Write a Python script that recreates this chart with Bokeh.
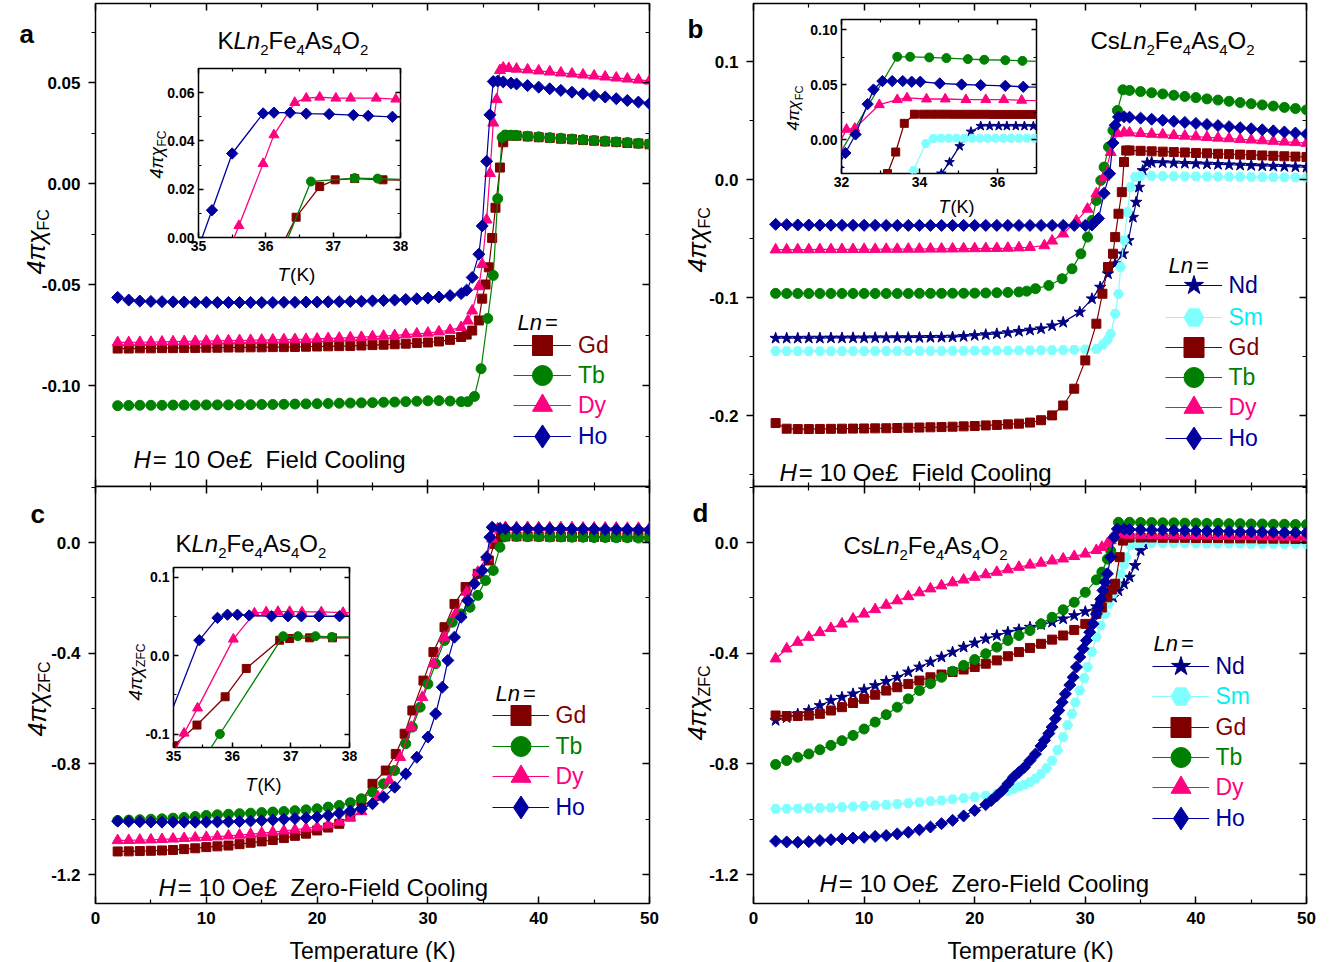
import math
from bokeh.plotting import figure
from bokeh.models import (Range1d, LinearAxis, FixedTicker, PrintfTickFormatter,
                          Label, Legend, LegendItem, GridBox)
from bokeh.core.properties import value
from bokeh.embed import file_html
from bokeh.resources import INLINE

# ---------------------------------------------------------------- data
# Panel a : K Ln2Fe4As4O2, field cooling
a_Gd_T = [2,3,4,5,6,7,8,9,10,11,12,13,14,15,16,17,18,19,20,21,22,23,24,25,26,27,28,29,30,31,32,33,
          33.5,34.0,34.6,34.9,35.2,35.5,35.8,36.1,36.5,36.8,37.1,37.6,
          38,39,40,41,42,43,44,45,46,47,48,49,50]
a_Gd_v = [-0.0817,-0.0817,-0.0816,-0.0816,-0.0815,-0.0815,-0.0814,-0.0814,-0.0813,-0.0813,-0.0812,-0.0812,
          -0.0811,-0.0811,-0.0810,-0.0810,-0.0809,-0.0808,-0.0807,-0.0806,-0.0805,-0.0804,-0.0802,-0.0800,
          -0.0798,-0.0796,-0.0793,-0.0790,-0.0787,-0.0782,-0.0774,-0.0760,
          -0.0748,-0.0728,-0.0678,-0.0570,-0.0500,-0.0415,-0.0270,-0.0120,0.0079,0.0204,0.0238,0.0238,
          0.0237,0.0233,0.0229,0.0226,0.0222,0.0219,0.0215,0.0212,0.0208,0.0205,0.0201,0.0198,0.0194]
a_Tb_T = [2,3,4,5,6,7,8,9,10,11,12,13,14,15,16,17,18,19,20,21,22,23,24,25,26,27,28,29,30,31,32,33,
          33.6,34.2,34.8,35.4,35.9,36.3,36.7,37.0,37.5,
          38,39,40,41,42,43,44,45,46,47,48,49,50]
a_Tb_v = [-0.1100,-0.1099,-0.1098,-0.1098,-0.1098,-0.1097,-0.1097,-0.1097,-0.1096,-0.1096,-0.1096,-0.1095,
          -0.1095,-0.1094,-0.1094,-0.1093,-0.1092,-0.1091,-0.1090,-0.1089,-0.1088,-0.1087,-0.1086,-0.1085,
          -0.1083,-0.1082,-0.1080,-0.1078,-0.1076,-0.1075,-0.1077,-0.1080,
          -0.1080,-0.1054,-0.0917,-0.0668,-0.0455,-0.0075,0.0228,0.0240,0.0239,
          0.0238,0.0234,0.0231,0.0227,0.0224,0.0220,0.0217,0.0213,0.0210,0.0206,0.0203,0.0199,0.0196]
a_Dy_T = [2,3,4,5,6,7,8,9,10,11,12,13,14,15,16,17,18,19,20,21,22,23,24,25,26,27,28,29,30,31,32,33,
          33.6,34.0,34.6,34.9,35.3,35.6,35.9,36.2,36.5,36.8,37.3,
          38,39,40,41,42,43,44,45,46,47,48,49,50]
a_Dy_v = [-0.0787,-0.0787,-0.0786,-0.0785,-0.0784,-0.0783,-0.0782,-0.0781,-0.0780,-0.0779,-0.0778,-0.0777,
          -0.0776,-0.0775,-0.0774,-0.0773,-0.0772,-0.0771,-0.0769,-0.0767,-0.0765,-0.0763,-0.0761,-0.0758,
          -0.0755,-0.0752,-0.0748,-0.0744,-0.0740,-0.0734,-0.0726,-0.0712,
          -0.0680,-0.0630,-0.0510,-0.0400,-0.0180,0.0050,0.0300,0.0416,0.0560,0.0572,0.0570,
          0.0567,0.0563,0.0558,0.0553,0.0548,0.0543,0.0538,0.0533,0.0528,0.0523,0.0518,0.0513,0.0508]
a_Ho_T = [2,3,4,5,6,7,8,9,10,11,12,13,14,15,16,17,18,19,20,21,22,23,24,25,26,27,28,29,30,31,32,33,
          33.5,34.0,34.6,34.9,35.3,35.6,35.9,36.3,36.8,37.5,
          38,39,40,41,42,43,44,45,46,47,48,49,50]
a_Ho_v = [-0.0564,-0.0577,-0.0582,-0.0584,-0.0585,-0.0586,-0.0587,-0.0588,-0.0588,-0.0589,-0.0589,-0.0589,
          -0.0589,-0.0589,-0.0589,-0.0588,-0.0588,-0.0587,-0.0587,-0.0586,-0.0585,-0.0584,-0.0583,-0.0581,
          -0.0579,-0.0577,-0.0574,-0.0571,-0.0567,-0.0562,-0.0555,-0.0545,
          -0.0528,-0.0465,-0.0350,-0.0210,0.0110,0.0340,0.0505,0.0507,0.0503,0.0497,
          0.0493,0.0485,0.0477,0.0469,0.0461,0.0452,0.0444,0.0436,0.0428,0.0420,0.0411,0.0403,0.0395]

# Panel b : Cs Ln2Fe4As4O2, field cooling
b_Nd_T = [2,3,4,5,6,7,8,9,10,11,12,13,14,15,16,17,18,19,20,21,22,23,24,25,26,27,28,
          29.5,30.6,31.35,32.05,32.7,33.4,33.9,34.3,34.6,34.85,35.2,35.6,
          36,37,38,39,40,41,42,43,44,45,46,47,48,49,50]
b_Nd_v = [-0.1345,-0.1345,-0.1345,-0.1344,-0.1344,-0.1343,-0.1343,-0.1342,-0.1342,-0.1341,-0.1341,-0.1340,
          -0.1340,-0.1339,-0.1338,-0.1337,
          -0.1335,-0.1330,-0.1322,-0.1315,-0.1308,-0.1298,-0.1287,-0.1276,-0.1265,-0.1240,-0.1210,
          -0.1124,-0.1011,-0.0912,-0.0799,-0.0714,-0.0630,-0.0517,-0.0320,-0.0192,-0.0065,0.0076,0.0140,
          0.0145,0.0143,0.0140,0.0137,0.0134,0.0131,0.0128,0.0125,0.0122,0.0119,0.0116,0.0113,0.0110,0.0107,0.0104]
b_Sm_T = [2,3,4,5,6,7,8,9,10,11,12,13,14,15,16,17,18,19,20,21,22,23,24,25,26,27,28,29,30,31,
          31.6,32.0,32.3,32.7,33.0,33.2,33.5,33.8,34.1,34.5,
          35,36,37,38,39,40,41,42,43,44,45,46,47,48,49,50]
b_Sm_v = [-0.1454,-0.1455,-0.1455,-0.1455,-0.1455,-0.1455,-0.1455,-0.1455,-0.1455,-0.1454,-0.1454,-0.1454,
          -0.1454,-0.1453,-0.1453,-0.1453,-0.1452,-0.1452,-0.1451,-0.1451,-0.1450,-0.1450,-0.1449,-0.1448,
          -0.1447,-0.1446,-0.1445,-0.1443,-0.1440,-0.1436,
          -0.1400,-0.1360,-0.1307,-0.1138,-0.0969,-0.0742,-0.0516,-0.0276,-0.0064,0.0021,
          0.0030,0.0030,0.0029,0.0028,0.0027,0.0026,0.0025,0.0024,0.0023,0.0022,0.0021,0.0020,0.0019,0.0018,0.0017,0.0016]
b_Gd_T = [2,3,4,5,6,7,8,9,10,11,12,13,14,15,16,17,18,19,20,21,22,23,24,25,26,27,28,29,30,
          31,31.55,32.05,32.5,32.7,33.0,33.3,33.5,33.7,
          34,35,36,37,38,39,40,41,42,43,44,45,46,47,48,49,50]
b_Gd_v = [-0.2064,-0.2112,-0.2115,-0.2115,-0.2114,-0.2113,-0.2112,-0.2111,-0.2110,-0.2109,-0.2108,-0.2106,
          -0.2104,-0.2102,-0.2100,-0.2098,-0.2095,-0.2092,-0.2089,-0.2084,-0.2080,-0.2075,-0.2069,-0.2060,
          -0.2040,-0.1999,-0.1915,-0.1773,-0.1533,
          -0.1222,-0.0968,-0.0742,-0.0629,-0.0488,-0.0290,-0.0107,0.0148,0.0246,
          0.0246,0.0243,0.0239,0.0236,0.0232,0.0229,0.0225,0.0222,0.0218,0.0215,0.0211,0.0208,0.0204,0.0201,
          0.0197,0.0194,0.0190]
b_Tb_T = [2,3,4,5,6,7,8,9,10,11,12,13,14,15,16,17,18,19,20,21,22,23,24,
          24.7,25.5,26.7,27.9,28.8,29.6,30.2,30.6,31.0,31.4,31.7,32.1,32.5,32.9,33.4,
          34,35,36,37,38,39,40,41,42,43,44,45,46,47,48,49,50]
b_Tb_v = [-0.0965,-0.0966,-0.0966,-0.0966,-0.0966,-0.0966,-0.0966,-0.0966,-0.0966,-0.0966,-0.0966,-0.0966,
          -0.0966,-0.0965,-0.0965,-0.0965,-0.0964,-0.0964,-0.0963,-0.0962,-0.0960,-0.0957,-0.0953,
          -0.0946,-0.0925,-0.0898,-0.0841,-0.0757,-0.0630,-0.0488,-0.0347,-0.0178,-0.0008,0.0105,0.0275,
          0.0416,0.0585,0.0760,
          0.0755,0.0745,0.0735,0.0725,0.0714,0.0704,0.0694,0.0683,0.0673,0.0663,0.0652,0.0642,0.0632,0.0622,
          0.0611,0.0601,0.0590]
b_Dy_T = [2,3,4,5,6,7,8,9,10,11,12,13,14,15,16,17,18,19,20,21,22,23,24,25,
          26.3,27.0,28.0,29.2,30.2,31.0,31.7,32.3,32.9,33.5,
          34,35,36,37,38,39,40,41,42,43,44,45,46,47,48,49,50]
b_Dy_v = [-0.0595,-0.0595,-0.0594,-0.0594,-0.0593,-0.0593,-0.0592,-0.0592,-0.0591,-0.0591,-0.0590,-0.0590,
          -0.0589,-0.0589,-0.0588,-0.0588,-0.0587,-0.0586,-0.0585,-0.0584,-0.0583,-0.0581,-0.0578,-0.0574,
          -0.0560,-0.0520,-0.0460,-0.0350,-0.0250,-0.0120,0.0020,0.0230,0.0390,0.0398,
          0.0396,0.0391,0.0385,0.0380,0.0374,0.0369,0.0363,0.0358,0.0352,0.0347,0.0341,0.0336,0.0330,0.0325,
          0.0319,0.0314,0.0308]
b_Ho_T = [2,3,4,5,6,7,8,9,10,11,12,13,14,15,16,17,18,19,20,21,22,23,24,25,26,27,28,29,30,
          30.6,31.2,31.7,32.2,32.5,32.7,33.0,33.5,
          34,35,36,37,38,39,40,41,42,43,44,45,46,47,48,49,50]
b_Ho_v = [-0.0380,-0.0383,-0.0385,-0.0386,-0.0387,-0.0387,-0.0388,-0.0388,-0.0388,-0.0388,-0.0389,-0.0389,
          -0.0389,-0.0389,-0.0389,-0.0389,-0.0389,-0.0389,-0.0389,-0.0389,-0.0389,-0.0389,-0.0389,-0.0389,
          -0.0389,-0.0389,-0.0389,-0.0389,-0.0389,
          -0.0385,-0.0330,-0.0117,0.0050,0.0310,0.0460,0.0530,0.0532,
          0.0528,0.0520,0.0511,0.0502,0.0493,0.0484,0.0475,0.0466,0.0457,0.0448,0.0439,0.0430,0.0421,0.0412,
          0.0403,0.0394,0.0385]

# Panel c : K Ln2Fe4As4O2, zero-field cooling
c_Gd_T = [2,3,4,5,6,7,8,9,10,11,12,13,14,15,16,17,18,19,20,21,22,23,24,
          25.0,26.2,27.1,27.9,28.6,29.6,30.5,31.5,32.4,33.4,34.5,35.5,36.0,36.6,
          37,38,39,40,41,42,43,44,45,46,47,48,49,50]
c_Gd_v = [-1.1164,-1.1160,-1.1150,-1.1140,-1.1128,-1.1110,-1.1080,-1.1050,-1.1007,-1.0980,-1.0950,-1.0900,
          -1.0850,-1.0800,-1.0750,-1.0680,-1.0600,-1.0520,-1.0405,-1.0300,-1.0164,-0.9900,-0.9350,
          -0.872,-0.824,-0.764,-0.691,-0.607,-0.499,-0.396,-0.306,-0.222,-0.161,-0.113,-0.065,-0.005,0.019,
          0.022,0.022,0.022,0.022,0.021,0.021,0.021,0.021,0.020,0.020,0.020,0.020,0.020,0.020]
c_Tb_T = [2,3,4,5,6,7,8,9,10,11,12,13,14,15,16,17,18,19,20,21,22,23,24,
          25,26,27,28,28.6,29.3,30,30.7,31.5,32.2,33,33.8,34.5,35.2,35.9,36.5,37,
          38,39,40,41,42,43,44,45,46,47,48,49,50]
c_Tb_v = [-1.0044,-1.0030,-1.0015,-1.0000,-0.9985,-0.9960,-0.9935,-0.9900,-0.9863,-0.9840,-0.9820,-0.9800,
          -0.9780,-0.9760,-0.9740,-0.9720,-0.9690,-0.9660,-0.9622,-0.9560,-0.9500,-0.9400,-0.9260,
          -0.902,-0.872,-0.824,-0.727,-0.667,-0.595,-0.511,-0.438,-0.354,-0.288,-0.258,-0.234,-0.191,-0.137,
          -0.101,-0.017,0.022,
          0.022,0.021,0.021,0.020,0.020,0.019,0.019,0.018,0.018,0.017,0.017,0.016,0.016]
c_Dy_T = [2,3,4,5,6,7,8,9,10,11,12,13,14,15,16,17,18,19,20,21,22,23,24,
          25.5,26.5,27.5,28.5,29.5,30.5,31.5,32.5,33.5,34.5,35.3,35.8,36.3,
          37,38,39,40,41,42,43,44,45,46,47,48,49,50]
c_Dy_v = [-1.0766,-1.0760,-1.0750,-1.0740,-1.0725,-1.0710,-1.0690,-1.0670,-1.0650,-1.0630,-1.0600,-1.0570,
          -1.0540,-1.0500,-1.0465,-1.0420,-1.0380,-1.0330,-1.0280,-1.0200,-1.0100,-0.9950,-0.9720,
          -0.920,-0.860,-0.776,-0.667,-0.559,-0.438,-0.342,-0.258,-0.179,-0.107,-0.053,0.013,0.050,
          0.055,0.055,0.055,0.054,0.054,0.054,0.054,0.053,0.053,0.053,0.053,0.052,0.052,0.052]
c_Ho_T = [2,3,4,5,6,7,8,9,10,11,12,13,14,15,16,17,18,19,20,21,22,23,24,
          25,26,27,28,29,30,30.7,31.3,31.8,32.4,33.0,33.6,34.2,34.9,35.3,35.6,35.8,36.5,
          37,38,39,40,41,42,43,44,45,46,47,48,49,50]
c_Ho_v = [-1.0068,-1.0080,-1.0090,-1.0100,-1.0104,-1.0104,-1.0104,-1.0104,-1.0100,-1.0095,-1.0090,-1.0080,
          -1.0065,-1.0044,-1.0025,-1.0000,-0.9975,-0.9950,-0.9920,-0.9860,-0.9780,-0.9700,-0.9620,
          -0.944,-0.920,-0.884,-0.836,-0.776,-0.703,-0.619,-0.523,-0.426,-0.342,-0.270,-0.210,-0.149,-0.101,
          -0.053,0.019,0.055,0.051,
          0.050,0.050,0.050,0.049,0.049,0.049,0.048,0.048,0.048,0.047,0.047,0.047,0.046,0.046]

# Panel d : Cs Ln2Fe4As4O2, zero-field cooling
d_Nd_T = [2,3,4,5,6,7,8,9,10,11,12,13,14,15,16,17,18,19,20,21,22,23,24,25,26,27,28,29,30,31,32,
          32.5,33,33.5,34,34.5,35,35.3,35.6,
          36,37,38,39,40,41,42,43,44,45,46,47,48,49,50]
d_Nd_v = [-0.643,-0.633,-0.620,-0.607,-0.589,-0.571,-0.559,-0.547,-0.532,-0.517,-0.502,-0.487,-0.468,-0.450,
          -0.432,-0.414,-0.396,-0.378,-0.363,-0.348,-0.336,-0.324,-0.315,-0.306,-0.297,-0.288,-0.276,-0.264,
          -0.250,-0.232,-0.210,
          -0.198,-0.175,-0.150,-0.125,-0.083,-0.029,-0.005,0.008,
          0.012,0.012,0.012,0.012,0.011,0.011,0.011,0.011,0.011,0.010,0.010,0.010,0.010,0.010,0.010]
d_Sm_T = [2,3,4,5,6,7,8,9,10,11,12,13,14,15,16,17,18,19,20,21,22,
          23,23.5,24,24.5,25,25.5,26,26.5,27,27.5,28,28.4,28.8,29.1,29.5,29.9,30.2,30.6,31,31.4,31.8,32.1,
          32.5,32.8,33.2,33.5,33.7,34.1,34.5,
          35,36,37,38,39,40,41,42,43,44,45,46,47,48,49,50]
d_Sm_v = [-0.962,-0.962,-0.961,-0.960,-0.959,-0.958,-0.956,-0.954,-0.952,-0.950,-0.948,-0.945,-0.942,-0.939,
          -0.935,-0.932,-0.928,-0.924,-0.920,-0.915,-0.908,
          -0.898,-0.890,-0.882,-0.875,-0.866,-0.853,-0.836,-0.815,-0.788,-0.750,-0.703,-0.660,-0.619,-0.578,
          -0.535,-0.490,-0.450,-0.395,-0.342,-0.300,-0.258,-0.222,-0.185,-0.150,-0.113,-0.080,-0.053,-0.011,
          -0.003,
          -0.002,-0.002,-0.003,-0.003,-0.003,-0.003,-0.004,-0.004,-0.004,-0.004,-0.005,-0.005,-0.005,-0.005,
          -0.005,-0.006]
d_Gd_T = [2,3,4,5,6,7,8,9,10,11,12,13,14,15,16,17,18,19,20,21,22,23,24,25,26,27,28,29,30,31,
          31.5,32,32.4,32.7,33.1,33.4,33.8,
          34,35,36,37,38,39,40,41,42,43,44,45,46,47,48,49,50]
d_Gd_v = [-0.625,-0.627,-0.627,-0.625,-0.619,-0.607,-0.595,-0.580,-0.565,-0.550,-0.535,-0.523,-0.511,-0.499,
          -0.487,-0.477,-0.468,-0.459,-0.450,-0.438,-0.426,-0.411,-0.396,-0.381,-0.366,-0.351,-0.336,-0.316,
          -0.294,-0.258,
          -0.235,-0.198,-0.170,-0.149,-0.053,0.007,0.018,
          0.018,0.018,0.018,0.017,0.017,0.017,0.016,0.016,0.016,0.015,0.015,0.015,0.014,0.014,0.014,0.013,0.013]
d_Tb_T = [2,3,4,5,6,7,8,9,10,11,12,13,14,15,16,17,18,19,20,21,22,23,24,25,26,27,28,29,30,31,
          31.5,32,32.3,32.6,33,
          34,35,36,37,38,39,40,41,42,43,44,45,46,47,48,49,50]
d_Tb_v = [-0.802,-0.788,-0.776,-0.764,-0.749,-0.733,-0.716,-0.697,-0.674,-0.649,-0.622,-0.595,-0.565,-0.535,
          -0.510,-0.487,-0.465,-0.444,-0.423,-0.402,-0.378,-0.354,-0.336,-0.318,-0.294,-0.270,-0.243,-0.216,
          -0.180,-0.135,
          -0.107,-0.060,-0.030,0.019,0.073,
          0.073,0.072,0.072,0.071,0.071,0.070,0.070,0.069,0.069,0.068,0.068,0.067,0.067,0.066,0.066,0.065,0.065]
d_Dy_T = [2,3,4,5,6,7,8,9,10,11,12,13,14,15,16,17,18,19,20,21,22,23,24,25,26,27,28,29,30,31,
          31.5,32,32.3,32.7,33.2,
          34,35,36,37,38,39,40,41,42,43,44,45,46,47,48,49,50]
d_Dy_v = [-0.420,-0.384,-0.360,-0.342,-0.325,-0.310,-0.294,-0.276,-0.258,-0.242,-0.226,-0.210,-0.195,-0.181,
          -0.167,-0.156,-0.145,-0.135,-0.125,-0.116,-0.107,-0.098,-0.089,-0.081,-0.074,-0.066,-0.059,-0.050,
          -0.041,-0.028,
          -0.017,-0.004,0.007,0.031,0.028,
          0.027,0.027,0.026,0.026,0.025,0.025,0.024,0.024,0.023,0.023,0.022,0.022,0.021,0.021,0.020,0.020,0.020]
d_Ho_T = [2,3,4,5,6,7,8,9,10,11,12,13,14,15,16,17,18,19,20,
          21,21.5,22,22.5,23,23.5,24,24.5,25,25.5,26,26.3,26.7,27,27.3,27.6,27.9,28.2,28.6,28.9,29.2,29.5,
          29.8,30.1,30.4,30.7,31.0,31.2,31.4,31.6,31.8,32.0,32.3,32.6,32.9,33.5,
          34,35,36,37,38,39,40,41,42,43,44,45,46,47,48,49,50]
d_Ho_v = [-1.079,-1.082,-1.083,-1.081,-1.077,-1.074,-1.071,-1.068,-1.065,-1.062,-1.059,-1.053,-1.047,-1.038,
          -1.028,-1.016,-1.004,-0.988,-0.968,
          -0.947,-0.932,-0.915,-0.896,-0.872,-0.848,-0.830,-0.812,-0.788,-0.764,-0.735,-0.715,-0.690,-0.667,
          -0.637,-0.607,-0.577,-0.547,-0.515,-0.487,-0.450,-0.414,-0.384,-0.354,-0.324,-0.294,-0.258,-0.234,
          -0.205,-0.173,-0.143,-0.113,-0.053,0.019,0.049,0.048,
          0.047,0.046,0.045,0.045,0.044,0.043,0.042,0.042,0.041,0.040,0.039,0.039,0.038,0.037,0.036,0.036,0.035]

# Inset of a
ia_Gd_T = [36.1,36.45,36.8,37.03,37.32,37.74,38.2]
ia_Gd_v = [-0.011,0.0084,0.0211,0.0239,0.0244,0.0239,0.0237]
ia_Tb_T = [36.2,36.67,37.32,37.66,38.2]
ia_Tb_v = [-0.0090,0.0232,0.0246,0.0244,0.0238]
ia_Dy_T = [35.3,35.6,35.96,36.12,36.43,36.6,36.8,37.04,37.26,37.64,37.93,38.2]
ia_Dy_v = [-0.016,0.0049,0.0306,0.0425,0.0559,0.0577,0.0581,0.0577,0.0577,0.0577,0.0573,0.0571]
ia_Ho_T = [34.9,35.2,35.5,35.96,36.12,36.36,36.6,36.94,37.3,37.52,37.88,38.2]
ia_Ho_v = [-0.012,0.0113,0.0348,0.0514,0.0517,0.0517,0.0513,0.0511,0.0507,0.0504,0.0500,0.0497]

# Inset of b
ib_Nd_T = [34.3,34.56,34.77,35.03,35.32,35.57,35.8,36.03,36.24,36.47,36.69,36.92,37.2]
ib_Nd_v = [-0.045,-0.031,-0.0206,-0.0061,0.0071,0.0123,0.0123,0.0123,0.0123,0.0123,0.0123,0.0122,0.0122]
ib_Sm_T = [33.7,33.85,34.16,34.35,34.55,34.75,34.95,35.15,35.35,35.55,35.75,35.95,36.15,36.35,36.55,36.75,36.95,37.2]
ib_Sm_v = [-0.045,-0.028,-0.0037,0.0009,0.0012,0.0012,0.0012,0.0012,0.0012,0.0012,0.0012,0.0012,0.0012,
           0.0012,0.0012,0.0012,0.0012,0.0012]
ib_Gd_T = [33.0,33.18,33.39,33.61,33.87,34.1,34.3,34.5,34.7,34.9,35.1,35.3,35.5,35.7,35.9,36.1,36.3,36.5,
           36.7,36.9,37.2]
ib_Gd_v = [-0.060,-0.031,-0.0114,0.0147,0.0230,0.0230,0.0230,0.0230,0.0230,0.0229,0.0229,0.0229,0.0229,
           0.0229,0.0228,0.0228,0.0228,0.0228,0.0228,0.0228,0.0227]
ib_Tb_T = [31.7,33.43,33.76,34.25,34.69,35.24,35.66,36.2,36.64,37.2]
ib_Tb_v = [-0.028,0.0752,0.0752,0.0746,0.0740,0.0731,0.0725,0.0721,0.0715,0.0708]
ib_Dy_T = [31.9,32.13,32.34,32.97,33.43,33.68,34.18,34.66,35.19,35.7,36.16,36.62,37.2]
ib_Dy_v = [-0.006,0.0092,0.0101,0.0316,0.0362,0.0378,0.0368,0.0368,0.0362,0.0362,0.0362,0.0356,0.0352]
ib_Ho_T = [31.9,32.1,32.36,32.67,32.82,33.05,33.3,33.57,33.8,34.02,34.52,35.08,35.57,36.2,36.66,37.2]
ib_Ho_v = [-0.025,-0.0123,0.0046,0.0322,0.0454,0.0531,0.0531,0.0531,0.0525,0.0525,0.0510,0.0500,0.0494,
           0.0488,0.0479,0.0474]

# Inset of c
ic_Gd_T = [34.9,35.0,35.4,35.88,36.24,36.81,36.98,37.32,37.71,38.2]
ic_Gd_v = [-0.122,-0.115,-0.0886,-0.0526,-0.0165,0.0195,0.0216,0.0225,0.0225,0.0223]
ic_Tb_T = [35.5,35.79,36.87,37.12,37.42,37.7,38.2]
ic_Tb_v = [-0.1335,-0.100,0.0246,0.0246,0.0246,0.0237,0.0235]
ic_Dy_T = [34.9,35.18,35.41,36.02,36.38,36.58,36.78,36.98,37.19,37.52,37.89,38.2]
ic_Dy_v = [-0.138,-0.099,-0.067,0.0208,0.054,0.0555,0.056,0.056,0.0555,0.0555,0.0547,0.0545]
ic_Ho_T = [34.9,35.44,35.75,35.92,36.09,36.29,36.67,36.95,37.18,37.48,37.83,38.2]
ic_Ho_v = [-0.084,0.0195,0.048,0.052,0.052,0.051,0.050,0.050,0.050,0.050,0.050,0.050]

# ticks
x_main_ticks = [0, 10, 20, 30, 40, 50]
x_main_minor = [5, 15, 25, 35, 45]
ya_ticks = [-0.10, -0.05, 0.0, 0.05]
ya_minor = [-0.125, -0.075, -0.025, 0.025, 0.075]
yb_ticks = [-0.2, -0.1, 0.0, 0.1]
yb_minor = [-0.25, -0.15, -0.05, 0.05]
ycd_ticks = [-1.2, -0.8, -0.4, 0.0]
ycd_minor = [-1.0, -0.6, -0.2, 0.2]
xia_ticks = [35, 36, 37, 38]
xia_minor = [35.5, 36.5, 37.5]
yia_ticks = [0.0, 0.02, 0.04, 0.06]
yia_minor = [0.01, 0.03, 0.05]
xib_ticks = [32, 34, 36]
xib_minor = [33, 35, 37]
yib_ticks = [0.0, 0.05, 0.10]
yib_minor = [-0.025, 0.025, 0.075]
yic_ticks = [-0.1, 0.0, 0.1]
yic_minor = [-0.05, 0.05]

# ---------------------------------------------------------------- styles
FONT = "Liberation Sans"
COL = {"Nd": "#000080", "Sm": "#80FFFF", "Gd": "#800000", "Tb": "#008000", "Dy": "#FF0080", "Ho": "#0000A0"}
TXT = {"Nd": "#000080", "Sm": "#00F0F0", "Gd": "#800000", "Tb": "#008000", "Dy": "#FF0080", "Ho": "#0000A0"}
MARK = {"Nd": ("star", 0.0), "Sm": ("hex", 0.0), "Gd": ("square", 0.0), "Tb": ("circle", 0.0),
        "Dy": ("triangle", 0.0), "Ho": ("square", math.pi / 4)}
MSIZE_MAIN = {"Nd": 12, "Sm": 10, "Gd": 9, "Tb": 10, "Dy": 11, "Ho": 8.5}
MSIZE_INSET = {"Nd": 10, "Sm": 9, "Gd": 8, "Tb": 9, "Dy": 10, "Ho": 8}

CW = {' ': 278, '(': 333, ')': 333, '=': 584, '.': 278, '-': 333, '£': 556,
      'A': 667, 'C': 722, 'F': 611, 'H': 722, 'K': 667, 'L': 556, 'O': 778, 'T': 611, 'Z': 611,
      'a': 556, 'c': 500, 'd': 556, 'e': 556, 'g': 556, 'i': 222, 'l': 222, 'm': 833, 'n': 556,
      'o': 556, 'p': 556, 'r': 333, 's': 500, 't': 278, 'u': 556, 'π': 600, 'χ': 560}


def tw(s, size):
    return sum(CW.get(ch, 556) for ch in s) * size / 1000.0


# frame boxes in page pixels (left, top, right, bottom) and data ranges
SPEC = {
    "a": dict(box=(95, 3, 649, 486), xr=(0, 50), yr=(-0.15, -0.15 + 483 / 2020.0)),
    "b": dict(box=(753, 3, 1306, 486), xr=(0, 50), yr=(-0.2 - 71 / 1180.0, -0.2 - 71 / 1180.0 + 483 / 1180.0)),
    "c": dict(box=(95, 486, 649, 903), xr=(0, 50), yr=(56 / 276.75 - 417 / 276.75, 56 / 276.75)),
    "d": dict(box=(753, 486, 1306, 903), xr=(0, 50), yr=(56 / 276.75 - 417 / 276.75, 56 / 276.75)),
    "ia": dict(box=(198, 68, 400, 237), xr=(35, 38), yr=(0.0, 0.07)),
    "ib": dict(box=(841, 19, 1036, 173), xr=(32, 37), yr=(-34 / 1100.0, 120 / 1100.0)),
    "ic": dict(box=(173, 567, 349, 747), xr=(35, 38), yr=(-92 / 785.0, 88 / 785.0)),
}


def make_fig(key, borders, transparent=False):
    spec = SPEC[key]
    l, t, r, b = spec["box"]
    bl, br, bt, bb = borders
    fw, fh = r - l, b - t
    p = figure(width=bl + fw + br, height=bt + fh + bb, frame_width=fw, frame_height=fh,
               x_range=Range1d(*spec["xr"]), y_range=Range1d(*spec["yr"]),
               output_backend="svg", toolbar_location=None,
               min_border_left=bl, min_border_right=br, min_border_top=bt, min_border_bottom=bb)
    p.xgrid.visible = False
    p.ygrid.visible = False
    p.outline_line_color = "black"
    p.outline_line_width = 1.5
    p.outline_line_alpha = 1.0
    p.background_fill_color = "white"
    p.border_fill_color = None if transparent else "white"
    p.add_layout(LinearAxis(), "above")
    p.add_layout(LinearAxis(), "right")
    p.align = "start"
    return p


def cfg_axis(ax, ticks, minor, tin, tout, mtin, mtout, fmt=None, lsize=17, standoff=6):
    ax.ticker = FixedTicker(ticks=ticks, minor_ticks=minor)
    ax.axis_line_color = None
    ax.major_tick_in = tin
    ax.major_tick_out = tout
    ax.minor_tick_in = mtin
    ax.minor_tick_out = mtout
    ax.major_tick_line_width = 1.5
    ax.minor_tick_line_width = 1.2
    ax.major_tick_line_color = "black"
    ax.minor_tick_line_color = "black"
    ax.axis_label = None
    if fmt:
        ax.formatter = PrintfTickFormatter(format=fmt)
        ax.major_label_text_font = FONT
        ax.major_label_text_font_style = "bold"
        ax.major_label_text_font_size = f"{lsize}px"
        ax.major_label_text_color = "black"
        ax.major_label_standoff = standoff
    else:
        # tick marks only: labels are not painted
        ax.major_label_text_color = None
        ax.major_label_text_alpha = 0.0
        ax.major_label_text_font_size = "1px"
        ax.major_label_standoff = 0


def axes(p, xt, xm, yt, ym, yfmt, xfmt=None, inset=False):
    if inset:
        M, m, ls = 5, 3, 14
        cfg_axis(p.below[0], xt, xm, M, 0, m, 0, xfmt, ls, 3)
        cfg_axis(p.left[0], yt, ym, M, 0, m, 0, yfmt, ls, 4)
    else:
        M, m, ls = 7, 4, 17
        cfg_axis(p.below[0], xt, xm, M, 0, m, 0, xfmt, ls, 8)
        cfg_axis(p.left[0], yt, ym, 0, M, 0, m, yfmt, ls, 8)
    cfg_axis(p.above[0], xt, xm, M, 0, m, 0)
    cfg_axis(p.right[0], yt, ym, M, 0, m, 0)


def series(p, name, T, v, inset=False):
    assert len(T) == len(v), (name, len(T), len(v))
    c = COL[name]
    mk, ang = MARK[name]
    size = (MSIZE_INSET if inset else MSIZE_MAIN)[name]
    r1 = p.line(T, v, line_color=c, line_width=1.3 if inset else 1.2)
    r2 = p.scatter(T, v, marker=mk, size=size, angle=ang, fill_color=c, line_color=c, line_width=1)
    if name == "Ho":
        # legend key: the legend ignores marker rotation, so use a diamond key (not drawn on the plot)
        r3 = p.scatter(T, v, marker="diamond", size=size, fill_color=c, line_color=c, line_width=1,
                       visible=False)
        return [r1, r3]
    return [r1, r2]


def legend_entry(p, key, name, rends, cx, cy, gw):
    l, t, r, b = SPEC[key]["box"]
    gh = 64 if name == "Ho" else 50
    leg = Legend(items=[LegendItem(label=value(name), renderers=rends)],
                 location=(cx - gw / 2.0 - l, b - cy - gh / 2.0),
                 glyph_width=gw, glyph_height=gh, label_standoff=7, label_height=20,
                 label_text_font=FONT, label_text_font_size="23px", label_text_color=TXT[name],
                 label_text_baseline="middle", click_policy="none",
                 padding=0, margin=0, spacing=0, border_line_color=None,
                 background_fill_alpha=0.0, inactive_fill_alpha=0.0)
    p.add_layout(leg)


# ---------------------------------------------------------------- text overlay (page pixel coordinates)
OVW, OVH = 1337, 962
ov = figure(width=OVW, height=OVH, frame_width=OVW, frame_height=OVH,
            x_range=Range1d(0, OVW), y_range=Range1d(0, OVH),
            x_axis_type=None, y_axis_type=None, output_backend="svg", toolbar_location=None,
            min_border=0, min_border_left=0, min_border_right=0, min_border_top=0, min_border_bottom=0)
ov.outline_line_color = None
ov.background_fill_color = None
ov.border_fill_color = None
ov.align = "start"


def txt(px, py, s, size, style="normal", color="black", align="left", angle=0.0):
    ov.add_layout(Label(x=px, y=OVH - py, text=s, text_font=FONT, text_font_size=f"{size}px",
                        text_font_style=style, text_color=color, text_align=align,
                        text_baseline="alphabetic", angle=angle))


def formula(px, py, parts, size=24, sub=15, drop=9):
    x = px
    for s, kind in parts:
        if kind == "s":
            txt(x, py + drop, s, sub)
            x += tw(s, sub)
        else:
            txt(x, py, s, size, "italic" if kind == "i" else "normal")
            x += tw(s, size)


def ylabel(bx, by, main, subs, size, subsize, drop):
    txt(bx, by, main, size, "italic", angle=math.pi / 2)
    txt(bx + drop, by - tw(main, size) - 1, subs, subsize, angle=math.pi / 2)


def field_text(px, py, rest):
    txt(px, py, "H", 24, "italic")
    txt(px + tw("H", 24) + 2, py, rest, 24)


def ln_head(px, py):
    txt(px, py, "Ln", 22, "italic")
    txt(px + tw("Ln", 22) + 3, py, "=", 22)


K_PARTS = [("K", "n"), ("Ln", "i"), ("2", "s"), ("Fe", "n"), ("4", "s"), ("As", "n"), ("4", "s"), ("O", "n"), ("2", "s")]
CS_PARTS = [("Cs", "n"), ("Ln", "i"), ("2", "s"), ("Fe", "n"), ("4", "s"), ("As", "n"), ("4", "s"), ("O", "n"), ("2", "s")]

# ---------------------------------------------------------------- panel a
pa = make_fig("a", (95, 16, 3, 6))
axes(pa, x_main_ticks, x_main_minor, ya_ticks, ya_minor, "%.2f")
ra = {}
for nm, T, v in [("Gd", a_Gd_T, a_Gd_v), ("Tb", a_Tb_T, a_Tb_v), ("Dy", a_Dy_T, a_Dy_v), ("Ho", a_Ho_T, a_Ho_v)]:
    ra[nm] = series(pa, nm, T, v)
for nm, cy in [("Gd", 345), ("Tb", 375), ("Dy", 405), ("Ho", 436)]:
    legend_entry(pa, "a", nm, ra[nm], 542, cy, 58)
txt(19, 33, "a", 26, "bold")
formula(217, 40, K_PARTS)
field_text(133, 459, "= 10 Oe£\u00a0 Field Cooling")
ylabel(35, 274, "4πχ", "FC", 25, 16, 8)
ln_head(517, 322)

# ---------------------------------------------------------------- panel b
pb = make_fig("b", (88, 31, 3, 6))
axes(pb, x_main_ticks, x_main_minor, yb_ticks, yb_minor, "%.1f")
rb = {}
for nm, T, v in [("Nd", b_Nd_T, b_Nd_v), ("Sm", b_Sm_T, b_Sm_v), ("Gd", b_Gd_T, b_Gd_v),
                 ("Tb", b_Tb_T, b_Tb_v), ("Dy", b_Dy_T, b_Dy_v), ("Ho", b_Ho_T, b_Ho_v)]:
    rb[nm] = series(pb, nm, T, v)
for nm, cy in [("Nd", 285), ("Sm", 317), ("Gd", 347), ("Tb", 377), ("Dy", 407), ("Ho", 438)]:
    legend_entry(pb, "b", nm, rb[nm], 1193, cy, 57)
txt(687, 28, "b", 26, "bold")
formula(1090, 40, CS_PARTS)
field_text(779, 472, "= 10 Oe£\u00a0 Field Cooling")
ylabel(696, 272, "4πχ", "FC", 25, 16, 8)
ln_head(1168, 265)

# ---------------------------------------------------------------- panel c
pc = make_fig("c", (95, 16, 12, 51), transparent=True)
axes(pc, x_main_ticks, x_main_minor, ycd_ticks, ycd_minor, "%.1f", "%d")
rc = {}
for nm, T, v in [("Gd", c_Gd_T, c_Gd_v), ("Tb", c_Tb_T, c_Tb_v), ("Dy", c_Dy_T, c_Dy_v), ("Ho", c_Ho_T, c_Ho_v)]:
    rc[nm] = series(pc, nm, T, v)
for nm, cy in [("Gd", 715), ("Tb", 746), ("Dy", 776), ("Ho", 807)]:
    legend_entry(pc, "c", nm, rc[nm], 520, cy, 57)
txt(30, 513, "c", 26, "bold")
formula(175, 543, K_PARTS)
field_text(158, 887, "= 10 Oe£\u00a0 Zero-Field Cooling")
ylabel(36, 736, "4πχ", "ZFC", 25, 16, 8)
txt(372, 950, "Temperature (K)", 23, align="center")
ln_head(495, 693)

# ---------------------------------------------------------------- panel d
pd_ = make_fig("d", (88, 31, 12, 51), transparent=True)
axes(pd_, x_main_ticks, x_main_minor, ycd_ticks, ycd_minor, "%.1f", "%d")
rd = {}
for nm, T, v in [("Nd", d_Nd_T, d_Nd_v), ("Sm", d_Sm_T, d_Sm_v), ("Gd", d_Gd_T, d_Gd_v),
                 ("Tb", d_Tb_T, d_Tb_v), ("Dy", d_Dy_T, d_Dy_v), ("Ho", d_Ho_T, d_Ho_v)]:
    rd[nm] = series(pd_, nm, T, v)
for nm, cy in [("Nd", 666), ("Sm", 696), ("Gd", 727), ("Tb", 757), ("Dy", 787), ("Ho", 818)]:
    legend_entry(pd_, "d", nm, rd[nm], 1180, cy, 57)
txt(692, 512, "d", 26, "bold")
formula(843, 545, CS_PARTS)
field_text(819, 883, "= 10 Oe£\u00a0 Zero-Field Cooling")
ylabel(696, 740, "4πχ", "ZFC", 25, 16, 8)
txt(1030, 950, "Temperature (K)", 23, align="center")
ln_head(1153, 643)

# ---------------------------------------------------------------- insets
ia = make_fig("ia", (63, 8, 8, 48), transparent=True)
axes(ia, xia_ticks, xia_minor, yia_ticks, yia_minor, "%.2f", "%d", inset=True)
for nm, T, v in [("Gd", ia_Gd_T, ia_Gd_v), ("Tb", ia_Tb_T, ia_Tb_v), ("Dy", ia_Dy_T, ia_Dy_v), ("Ho", ia_Ho_T, ia_Ho_v)]:
    series(ia, nm, T, v, inset=True)
ylabel(156, 178, "4πχ", "FC", 18, 12, 5)
txt(277, 274, "T", 19, "italic")
txt(277 + tw("T", 19) + 1, 274, " (K)", 19)

ib = make_fig("ib", (69, 8, 7, 42), transparent=True)
axes(ib, xib_ticks, xib_minor, yib_ticks, yib_minor, "%.2f", "%d", inset=True)
for nm, T, v in [("Nd", ib_Nd_T, ib_Nd_v), ("Sm", ib_Sm_T, ib_Sm_v), ("Gd", ib_Gd_T, ib_Gd_v),
                 ("Tb", ib_Tb_T, ib_Tb_v), ("Dy", ib_Dy_T, ib_Dy_v), ("Ho", ib_Ho_T, ib_Ho_v)]:
    series(ib, nm, T, v, inset=True)
ylabel(793, 130, "4πχ", "FC", 17, 11, 5)
txt(938, 206, "T", 18, "italic")
txt(938 + tw("T", 18) + 1, 206, " (K)", 18)

ic = make_fig("ic", (61, 8, 7, 53), transparent=True)
axes(ic, xia_ticks, xia_minor, yic_ticks, yic_minor, "%.1f", "%d", inset=True)
for nm, T, v in [("Gd", ic_Gd_T, ic_Gd_v), ("Tb", ic_Tb_T, ic_Tb_v), ("Dy", ic_Dy_T, ic_Dy_v), ("Ho", ic_Ho_T, ic_Ho_v)]:
    series(ic, nm, T, v, inset=True)
ylabel(135, 700, "4πχ", "ZFC", 19, 12, 5)
txt(245, 784, "T", 18, "italic")
txt(245 + tw("T", 18) + 1, 784, " (K)", 18)

# ---------------------------------------------------------------- layout
# column lines: 0|0|112|135|357|408|665|772|1044|1337|1337
cols = ["0px", "112px", "23px", "222px", "51px", "257px", "107px", "272px", "293px", "0px"]
# row lines: 0|0|12|60|215|285|474|492|560|800|954|962|962
rows = ["0px", "12px", "48px", "155px", "70px", "189px", "18px", "68px", "240px", "154px", "8px", "0px"]

grid = GridBox(children=[(pa, 1, 1, 6, 5), (pb, 1, 6, 6, 3), (pc, 6, 1, 4, 5), (pd_, 6, 6, 4, 3),
                         (ia, 3, 3, 2, 2), (ib, 2, 7, 2, 1), (ic, 8, 2, 1, 2),
                         (ov, 0, 0, 12, 10)],
               rows=rows, cols=cols, spacing=0)

open("out.html", "w").write(file_html(grid, INLINE))
